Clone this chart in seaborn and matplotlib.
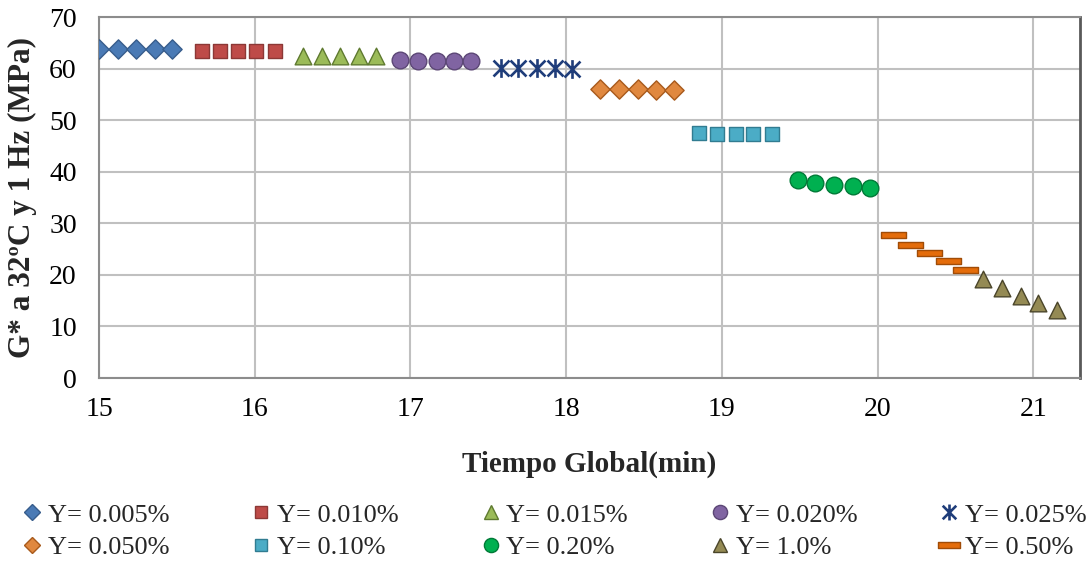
import numpy as np
import pandas as pd
import matplotlib
matplotlib.use("Agg")
import matplotlib.pyplot as plt
from matplotlib.path import Path
from matplotlib.lines import Line2D
import seaborn as sns

# ---- data ----
labels = ["Y= 0.005%", "Y= 0.010%", "Y= 0.015%", "Y= 0.020%", "Y= 0.025%",
          "Y= 0.050%", "Y= 0.10%", "Y= 0.20%", "Y= 0.50%", "Y= 1.0%"]
x_0005 = [15.00, 15.12, 15.24, 15.36, 15.47]
y_0005 = [63.8, 63.8, 63.8, 63.8, 63.8]
x_0010 = [15.66, 15.78, 15.89, 16.01, 16.13]
y_0010 = [63.5, 63.5, 63.5, 63.4, 63.4]
x_0015 = [16.31, 16.43, 16.55, 16.67, 16.78]
y_0015 = [62.5, 62.5, 62.5, 62.4, 62.4]
x_0020 = [16.93, 17.05, 17.17, 17.28, 17.39]
y_0020 = [61.6, 61.5, 61.5, 61.4, 61.4]
x_0025 = [17.58, 17.69, 17.81, 17.93, 18.04]
y_0025 = [60.2, 60.2, 60.1, 60.1, 60.0]
x_0050 = [18.22, 18.34, 18.46, 18.58, 18.69]
y_0050 = [56.1, 56.0, 56.0, 55.9, 55.9]
x_010 = [18.85, 18.97, 19.09, 19.20, 19.32]
y_010 = [47.6, 47.4, 47.4, 47.4, 47.4]
x_020 = [19.49, 19.60, 19.72, 19.84, 19.95]
y_020 = [38.4, 37.9, 37.5, 37.2, 36.9]
x_050 = [20.10, 20.21, 20.33, 20.45, 20.56]
y_050 = [27.7, 25.8, 24.2, 22.6, 21.0]
x_10 = [20.68, 20.80, 20.92, 21.03, 21.15]
y_10 = [19.1, 17.4, 15.9, 14.5, 13.2]

xs = [x_0005, x_0010, x_0015, x_0020, x_0025, x_0050, x_010, x_020, x_050, x_10]
ys = [y_0005, y_0010, y_0015, y_0020, y_0025, y_0050, y_010, y_020, y_050, y_10]

x_ticks = [15, 16, 17, 18, 19, 20, 21]
y_ticks = [0, 10, 20, 30, 40, 50, 60, 70]

# ---- styles ----
star = Path([(0, -1), (0, 1), (-0.85, -0.85), (0.85, 0.85), (-0.85, 0.85), (0.85, -0.85)],
            [Path.MOVETO, Path.LINETO, Path.MOVETO, Path.LINETO, Path.MOVETO, Path.LINETO])
dash = Path([(-1, -0.24), (1, -0.24), (1, 0.24), (-1, 0.24), (-1, -0.24)],
            [Path.MOVETO, Path.LINETO, Path.LINETO, Path.LINETO, Path.CLOSEPOLY])

styles = [
    dict(marker="D", ms=9.8, fc="#4a7ab5", ec="#375d8c", lw=1.0),
    dict(marker="s", ms=10.2, fc="#be4b48", ec="#8c3836", lw=1.0),
    dict(marker="^", ms=12, fc="#9bbb59", ec="#5f7a30", lw=1.0),
    dict(marker="o", ms=12, fc="#8064a2", ec="#5c4776", lw=1.0),
    dict(marker=star, ms=13.5, fc="#1f3d7a", ec="#1f3d7a", lw=1.9),
    dict(marker="D", ms=9.8, fc="#e0883f", ec="#a85a1c", lw=1.0),
    dict(marker="s", ms=10.2, fc="#4bacc6", ec="#317c91", lw=1.0),
    dict(marker="o", ms=12, fc="#00b050", ec="#007a37", lw=1.0),
    dict(marker=dash, ms=18, fc="#e46c0a", ec="#a04c07", lw=1.0),
    dict(marker="^", ms=12, fc="#948a54", ec="#4a452a", lw=1.0),
]

sns.set_theme(style="white")
plt.rcParams["font.family"] = ["Liberation Serif", "DejaVu Serif"]

fig = plt.figure(figsize=(10.88, 5.61), dpi=100)
ax = fig.add_axes([99 / 1088, 1 - 378 / 561, (1080 - 99) / 1088, (378 - 17) / 561])

for i in range(len(labels)):
    st = styles[i]
    df = pd.DataFrame({"x": xs[i], "y": ys[i]})
    sns.scatterplot(data=df, x="x", y="y", ax=ax, marker=st["marker"], s=st["ms"] ** 2,
                    color=st["fc"], edgecolor=st["ec"], linewidth=st["lw"], zorder=3,
                    legend=False)

ax.set_xlim(15, 21.3)
ax.set_ylim(0, 70)
ax.set_xticks(x_ticks)
ax.set_yticks(y_ticks)
ax.set_xticklabels([str(t) for t in x_ticks])
ax.set_yticklabels([str(t) for t in y_ticks])
ax.grid(True, color="#c0c0c0", linewidth=1.5)
ax.set_axisbelow(True)
ax.tick_params(axis="both", length=0, labelsize=20, colors="black")
ax.tick_params(axis="x", pad=14)
ax.tick_params(axis="y", pad=16)
for s in ["left", "bottom", "top"]:
    ax.spines[s].set_color("#8c8c8c")
    ax.spines[s].set_linewidth(1.5)
ax.spines["right"].set_color("#595959")
ax.spines["right"].set_linewidth(2)

ax.set_xlabel("Tiempo Global(min)", fontsize=21, fontweight="bold", labelpad=20)
ax.set_ylabel("G* a 32ºC y 1 Hz (MPa)", fontsize=22.5, fontweight="bold", labelpad=9)

# legend order: row-wise as in reference
order_labels = ["Y= 0.005%", "Y= 0.010%", "Y= 0.015%", "Y= 0.020%", "Y= 0.025%",
                "Y= 0.050%", "Y= 0.10%", "Y= 0.20%", "Y= 1.0%", "Y= 0.50%"]
handles = {}
for i, lab in enumerate(labels):
    st = styles[i]
    handles[lab] = Line2D([], [], linestyle="none", marker=st["marker"],
                          markersize=st["ms"] * 0.85, markerfacecolor=st["fc"],
                          markeredgecolor=st["ec"], markeredgewidth=st["lw"])
rows = [order_labels[:5], order_labels[5:]]
colmajor = []
for c in range(5):
    for r in range(2):
        colmajor.append(rows[r][c])
fig.legend([handles[l] for l in colmajor], colmajor, loc="center left",
           bbox_to_anchor=(21.5 / 1088, 1 - 531 / 561), ncol=5, frameon=False, fontsize=19,
           handlelength=0.8, handletextpad=0.2, columnspacing=3.08, labelspacing=0.33,
           borderaxespad=0, borderpad=0)

fig.savefig("out.png", dpi=100)
